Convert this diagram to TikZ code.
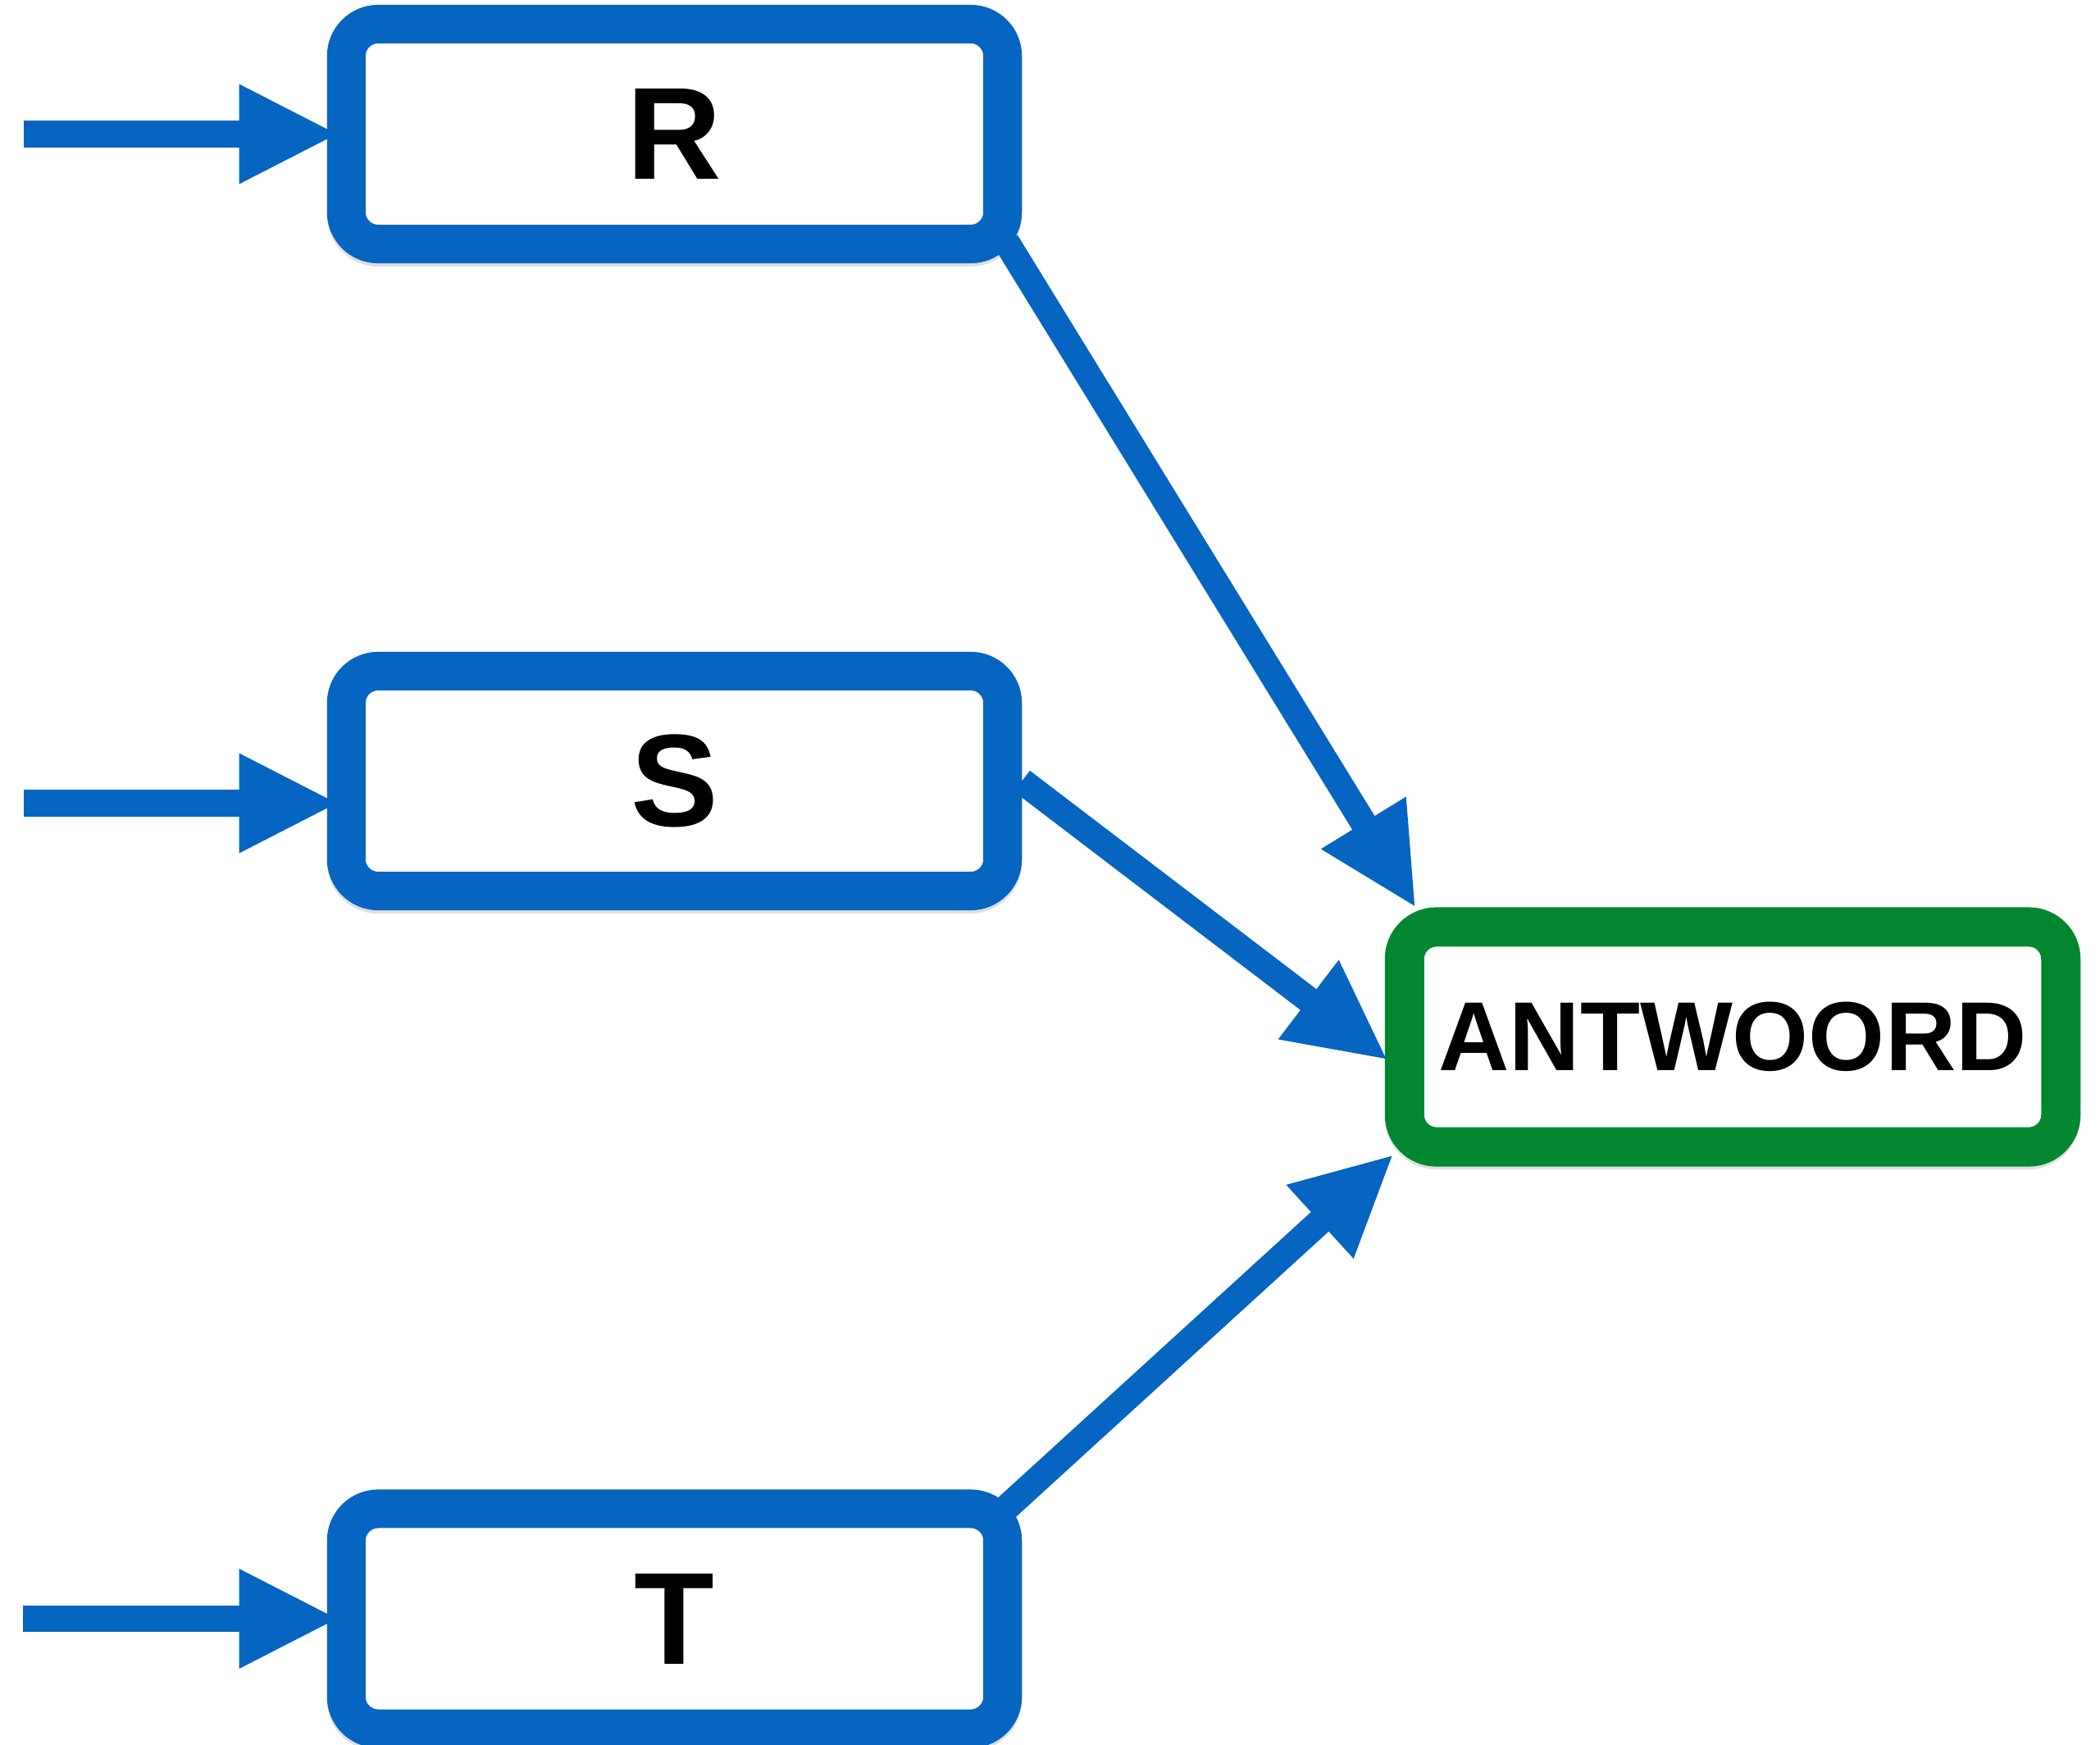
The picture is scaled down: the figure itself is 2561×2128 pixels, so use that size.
\documentclass[tikz,border=0pt]{standalone}
\usepackage{fontspec}
\setmainfont{Liberation Sans}
\usetikzlibrary{arrows.meta,shadows,calc}
\definecolor{boxblue}{HTML}{0565C0}
\definecolor{boxgreen}{HTML}{028730}
\begin{document}
\begin{tikzpicture}[x=0.01cm,y=-0.01cm,
  box/.style={draw=boxblue, line width=0.47cm, rounded corners=0.39cm, fill=white,
    minimum width=8cm, minimum height=2.68cm, inner sep=0pt,
    font=\fontsize{45.5pt}{50pt}\selectfont\bfseries,
    drop shadow={shadow xshift=0cm, shadow yshift=-0.04cm, opacity=0.18,
      fill=black!70, draw=black!70, line width=0.47cm}},
  answer/.style={box, draw=boxgreen, line width=0.48cm,
    font=\fontsize{34pt}{38pt}\selectfont\bfseries},
  flow/.style={draw=boxblue, line width=0.32cm,
    -{Triangle[length=1.22cm,width=1.12cm]}}]
\useasboundingbox (0,0) rectangle (2561,2128);
\node[box] (R) at (822.5,163.5) {R};
\node[box] (S) at (822.5,952.5) {S};
\node[box] (T) at (822.5,1974) {T};
\node[answer] (A) at (2113,1264.5) {ANTWOORD};
\coordinate (inR) at (29,163.5);
\coordinate (inS) at (29,979.5);
\coordinate (inT) at (28,1974);
\draw[flow] (inR) -- ([xshift=0.15cm]R.west);
\draw[flow] (inS) -- ([shift={(15,27)}]S.west);
\draw[flow] (inT) -- ([xshift=0.15cm]T.west);
\draw[flow] ([shift={(-19,-26)}]R.south east) -- ([shift={(38,1)}]A.north west);
\draw[flow] (S.east) -- ([shift={(4,28.5)}]A.west);
\draw[flow] ([shift={(-18,21.5)}]T.north east) -- ([shift={(11,-15)}]A.south west);
\end{tikzpicture}
\end{document}
